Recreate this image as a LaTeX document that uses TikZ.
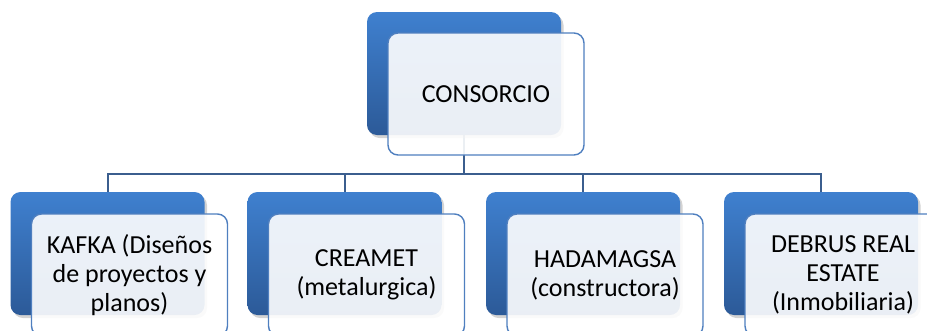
\documentclass[tikz,border=0pt]{standalone}
\usepackage{fontspec}
\setmainfont{Carlito}
\usetikzlibrary{shadows,backgrounds}
\definecolor{darkA}{HTML}{3F80CF}
\definecolor{darkB}{HTML}{2C5A98}
\definecolor{lineB}{HTML}{4F7FBF}
\definecolor{linkC}{HTML}{3B5E8E}
\tikzset{
 darkbox/.style={rounded corners=10pt, minimum width=194pt, minimum height=123pt, inner sep=0pt,
   top color=darkA, bottom color=darkB, draw=none,
   drop shadow={opacity=0.35, shadow xshift=2.5pt, shadow yshift=-3pt}},
 lightbox/.style={rounded corners=10pt, minimum width=196pt, minimum height=122pt, inner sep=0pt,
   fill=white, fill opacity=0.9, text opacity=1, draw=lineB, line width=1.4pt,
   align=center, font=\fontsize{26}{29}\selectfont},
 link/.style={draw=linkC, line width=2pt}
}
\begin{document}
\begin{tikzpicture}[x=1pt,y=-1pt]
\useasboundingbox (0,0) rectangle (927,330);
\clip (0,0) rectangle (927,330);
% top
\node[darkbox] (d0) at (464,73.5) {};
\node[darkbox] (d1) at (107.5,253.5) {};
\node[darkbox] (d2) at (344.5,253.5) {};
\node[darkbox] (d3) at (583,253.5) {};
\node[darkbox] (d4) at (821,253.5) {};
\begin{pgfonlayer}{background}
\coordinate (h) at (464,174);
\draw[link] (d0.south) -- (h);
\draw[link] (d1.north) |- (h);
\draw[link] (d2.north) |- (h);
\draw[link] (d3.north) |- (h);
\draw[link] (d4.north) |- (h);
\end{pgfonlayer}
\node[lightbox] (l0) at (486,94) {CONSORCIO};
\node[lightbox] (l1) at (129.5,275) {KAFKA (Diseños\\de proyectos y\\planos)};
\node[lightbox] (l2) at (366.5,275) {CREAMET\\(metalurgica)};
\node[lightbox] (l3) at (605,275) {HADAMAGSA\\(constructora)};
\node[lightbox] (l4) at (843,275) {DEBRUS REAL\\ESTATE\\(Inmobiliaria)};
\end{tikzpicture}
\end{document}
